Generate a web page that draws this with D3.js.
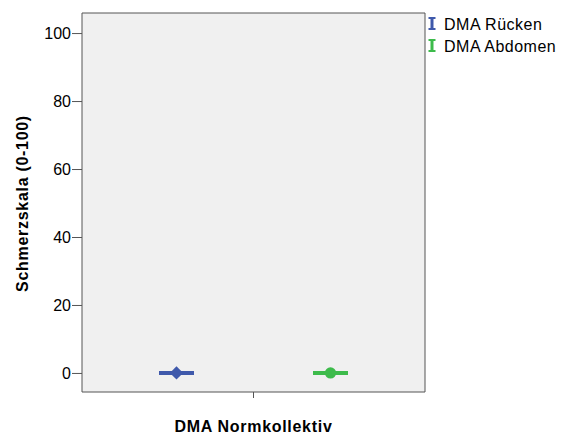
<!DOCTYPE html>
<html><head><meta charset="utf-8">
<script src="https://cdn.jsdelivr.net/npm/d3@7"></script>
<style>body{margin:0;background:#fff;} text{font-family:Arial,"Liberation Sans",sans-serif;}</style>
</head><body><svg id="c" width="570" height="439"></svg>
<script>
const category = ["DMA Normkollektiv"];
const seriesNames = ["DMA Rücken", "DMA Abdomen"];
const seriesMeans = [0, 0];
const seriesLower = [0, 0];
const seriesUpper = [0, 0];
const seriesColors = ["#3f59ab", "#3dbb4b"];
const yTicks = [0, 20, 40, 60, 80, 100];

const svg = d3.select("#c");
const L = 82, R = 425, T = 13, B = 392;
svg.append("rect").attr("x", L).attr("y", T).attr("width", R - L).attr("height", B - T).attr("fill", "#f0f0f0");

const y = d3.scaleLinear().domain([-5.6, 105.9]).range([B, T]);
const x = d3.scaleBand().domain(category).range([L, R]);
const xs = d3.scalePoint().domain(seriesNames).range([-77, 77]);

const yAxis = svg.append("g").attr("transform", `translate(${L},0)`)
  .call(d3.axisLeft(y).tickValues(yTicks).tickSize(10).tickPadding(1).tickSizeOuter(0));
yAxis.select(".domain").attr("stroke", "#555").attr("d", `M0,${T}V${B}`);
yAxis.selectAll(".tick line").attr("stroke", "#555");
yAxis.selectAll(".tick text").attr("font-size", 16).attr("fill", "#000").attr("font-family", "Arial, Liberation Sans, sans-serif");

const xAxis = svg.append("g").attr("transform", `translate(0,${B})`)
  .call(d3.axisBottom(x).tickSize(6).tickSizeOuter(0).tickFormat(""));
xAxis.select(".domain").attr("stroke", "#555").attr("d", `M${L},0H${R}`);
xAxis.selectAll(".tick line").attr("stroke", "#555");

svg.append("line").attr("x1", R).attr("x2", R).attr("y1", T).attr("y2", B).attr("stroke", "#555");
svg.append("line").attr("x1", L).attr("x2", R).attr("y1", T).attr("y2", T).attr("stroke", "#555");

const cx = x(category[0]) + x.bandwidth() / 2;
seriesNames.forEach((s, i) => {
  const px = cx + xs(s);
  const g = svg.append("g");
  g.append("line").attr("x1", px).attr("x2", px).attr("y1", y(seriesLower[i])).attr("y2", y(seriesUpper[i]))
    .attr("stroke", seriesColors[i]).attr("stroke-width", 3);
  [seriesLower[i], seriesUpper[i]].forEach(v => {
    g.append("line").attr("x1", px - 17.5).attr("x2", px + 17.5).attr("y1", y(v)).attr("y2", y(v))
      .attr("stroke", seriesColors[i]).attr("stroke-width", 4);
  });
  if (i === 0) {
    g.append("path").attr("d", d3.symbol().type(d3.symbolSquare).size(88)())
      .attr("transform", `translate(${px},${y(seriesMeans[i])}) rotate(45)`).attr("fill", seriesColors[i]);
  } else {
    g.append("path").attr("d", d3.symbol().type(d3.symbolCircle).size(100)())
      .attr("transform", `translate(${px},${y(seriesMeans[i])})`).attr("fill", seriesColors[i]);
  }
});

svg.append("text").attr("x", cx).attr("y", 432).attr("text-anchor", "middle")
  .attr("font-size", 16).attr("letter-spacing", 0.7).attr("font-weight", "bold").text("DMA Normkollektiv");
svg.append("text").attr("transform", `translate(28,${(T + B) / 2 + 1}) rotate(-90)`).attr("text-anchor", "middle")
  .attr("font-size", 16).attr("letter-spacing", 0.7).attr("font-weight", "bold").text("Schmerzskala (0-100)");

seriesNames.forEach((s, i) => {
  const ly = 23.5 + i * 22;
  const lx = 432;
  const g = svg.append("g").attr("stroke", seriesColors[i]);
  g.append("line").attr("x1", lx).attr("x2", lx).attr("y1", ly - 6).attr("y2", ly + 6).attr("stroke-width", 3);
  g.append("line").attr("x1", lx - 3.5).attr("x2", lx + 3.5).attr("y1", ly - 5.5).attr("y2", ly - 5.5).attr("stroke-width", 2);
  g.append("line").attr("x1", lx - 3.5).attr("x2", lx + 3.5).attr("y1", ly + 5.5).attr("y2", ly + 5.5).attr("stroke-width", 2);
  svg.append("text").attr("x", 444).attr("y", ly + 6).attr("font-size", 16).attr("letter-spacing", 0.5).text(s);
});
</script></body></html>
